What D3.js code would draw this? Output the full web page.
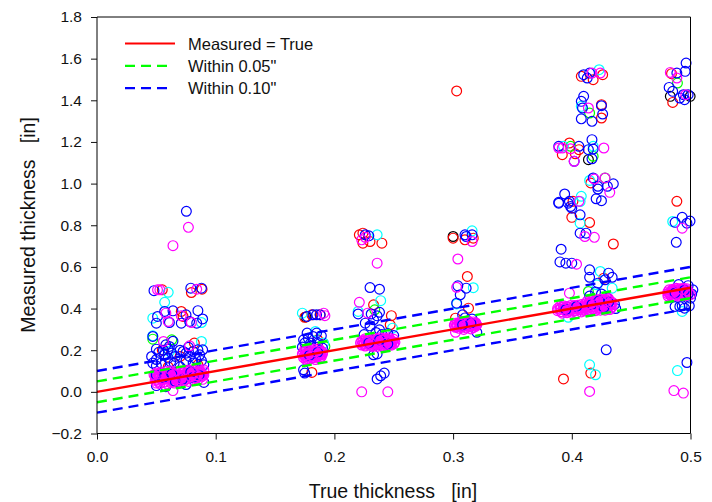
<!DOCTYPE html>
<html>
<head>
<meta charset="utf-8">
<script src="https://cdnjs.cloudflare.com/ajax/libs/d3/7.8.5/d3.min.js"></script>
<style>
    html, body {margin: 0; padding: 0; background: #fff;}
    text {font-family: "Liberation Sans", Arial, sans-serif; fill: #111;}
</style>
</head>
<body>
<div id="chart"></div>
<script>
// Values: [true thickness, measured thickness]
const xTicks = [0, 0.1, 0.2, 0.3, 0.4, 0.5];
const yTicks = [-0.2, 0, 0.2, 0.4, 0.6, 0.8, 1.0, 1.2, 1.4, 1.6, 1.8];
const lineEnds = [0, 0.5];
const legendLabels = ["Measured = True", "Within 0.05\"", "Within 0.10\""];

const blackPts = [[.300,.746],[.483,1.419],[.4997,1.419],[.414,1.115],[.176,.36]];

const redPts = [[.055,.49],[.0795,.477],[.0885,.493],[.071,.386],[.0725,.362],[.082,.234],[.07,.17],[.055,.2],[.085,.13],[.06,.12],
    [.175,.358],[.181,.37],[.188,.37],[.186,.25],[.181,.093],
    [.221,.754],[.224,.762],[.230,.722],[.240,.714],[.224,.714],[.233,.418],[.248,.366],[.247,.322],
    [.300,.738],[.310,.73],[.317,.738],[.312,.554],[.313,.402],[.302,.354],[.303,1.445],
    [.40,.838],[.415,.813],[.435,.71],[.427,.546],[.416,.09],[.393,.062],
    [.408,1.515],[.418,1.499],[.426,1.523],[.425,1.379],[.425,1.315],[.398,1.195],[.392,1.139],[.406,1.163],[.403,1.143],
    [.416,1.003],[.401,.915],[.4885,.915],[.484,1.528],[.485,1.39]];

const greenPts = [[.047,.253],[.063,.25],[.192,.218],[.234,.394],[.414,.482],[.399,1.179],[.415,1.339],[.418,1.131],[.428,1.027],[.489,1.483]];

const cyanPts = [[.06,.478],[.057,.43],[.047,.354],[.088,.333],[.047,.269],[.088,.242],[.061,.194],
    [.173,.378],[.184,.29],[.191,.234],[.236,.754],[.239,.438],[.22,.386],[.249,.306],[.316,.773],[.317,.5],[.303,.422],
    [.407,.81],[.424,.578],[.421,.514],[.434,.498],[.415,.13],[.42,.082],[.485,.818],[.493,.386],[.489,.102],[.397,.358],
    [.423,1.547],[.408,1.371],[.393,1.179],[.418,1.179],[.415,1.015],[.408,.939],[.407,.914]];

const bluePts = [[.048,.486],[.079,.498],[.088,.498],[.051,.362],[.05,.33],[.064,.389],[.085,.39],[.061,.333],[.071,.33],[.078,.338],
    [.084,.33],[.089,.35],[.057,.386],[.075,.37],[.064,.243],[.05,.205],[.046,.17],[.047,.266],[.058,.226],[.061,.218],[.063,.186],
    [.057,.178],[.06,.162],[.077,.214],[.0725,.194],[.081,.194],[.085,.202],[.089,.202],[.0865,.178],[.075,.186],[.054,.138],[.047,.138],
    [.065,.138],[.081,.138],[.056,.2],[.0753,.867],[.07,.12],[.05,.125],[.09,.13],[.05,.03],[.058,.025],[.09,.045],[.075,.035],
    [.052,.19],[.06,.205],[.066,.17],[.07,.2],[.078,.17],[.083,.16],[.088,.15],[.05,.155],[.062,.145],[.075,.15],
    [.177,.362],[.182,.37],[.185,.37],[.188,.37],[.174,.25],[.178,.258],[.185,.282],[.189,.269],[.177,.282],[.18,.234],[.175,.234],
    [.182,.266],[.174,.106],[.175,.09],[.19,.21],[.173,.215],[.18,.22],[.186,.235],[.176,.205],[.184,.215],
    [.226,.754],[.229,.749],[.23,.501],[.238,.493],[.22,.374],[.231,.374],[.238,.382],[.236,.365],[.233,.346],[.23,.317],[.238,.298],
    [.226,.33],[.233,.178],[.236,.182],[.236,.062],[.239,.077],[.242,.09],[.25,.27],[.245,.28],[.235,.285],[.24,.275],[.225,.275],
    [.31,.754],[.316,.754],[.311,.746],[.304,.509],[.311,.498],[.306,.466],[.303,.426],[.308,.37],[.32,.286],[.31,.355],[.316,.35],
    [.389,.906],[.397,.906],[.40,.882],[.407,.85],[.407,.762],[.412,.762],[.391,.685],[.39,.624],[.395,.618],[.40,.618],[.415,.586],
    [.415,.55],[.431,.57],[.434,.55],[.428,.538],[.422,.522],[.429,.202],[.415,.46],[.42,.48],[.425,.47],[.43,.45],[.436,.42],[.437,.40],
    [.488,.718],[.487,.814],[.493,.838],[.4996,.82],[.497,.81],[.497,.141],[.487,.41],[.491,.41],[.493,.413],[.499,.413],[.495,.402],
    [.501,.47],[.502,.49],[.498,.51],[.5,.45],[.49,.515],
    [.41,1.523],[.415,1.531],[.413,1.507],[.41,1.419],[.408,1.395],[.409,1.363],[.408,1.311],[.417,1.299],[.425,1.374],[.426,1.334],
    [.389,1.179],[.406,1.179],[.402,1.107],[.417,1.211],[.418,1.166],[.417,1.119],[.414,1.163],[.418,1.027],[.435,.999],[.422,.987],
    [.422,.974],[.43,.987],[.4205,.927],[.425,.918],[.394,.95],[.389,.91],[.398,.915],[.399,.89],[.4963,1.579],[.4955,1.539],[.4885,1.531],
    [.482,1.462],[.485,1.443],[.491,1.411],[.494,1.427],[.498,1.427],[.495,1.403]];

const magentaPts = [[.051,.49],[.053,.49],[.084,.493],[.058,.378],[.06,.338],[.071,.365],[.0795,.333],[.056,.242],[.078,.221],[.064,.702],[.077,.79],[.064,.006],
    [.191,.378],[.192,.366],[.223,.73],[.226,.742],[.236,.618],[.221,.43],[.228,.378],[.223,0],[.245,0],[.316,.722],[.304,.638],[.303,.502],[.302,.286],
    [.411,.746],[.419,.742],[.404,.613],[.398,.474],[.415,.002],[.493,.786],[.486,.006],[.494,-.006],
    [.417,1.531],[.424,1.531],[.414,1.363],[.389,1.171],[.392,1.171],[.399,1.167],[.402,1.107],[.427,1.171],[.419,1.022],[.428,1.027],[.432,.958],
    [.406,.915],[.483,1.534],[.4885,1.507],[.496,1.427]];

// the solid bands under the lines
const magentaBands = [
    [.049,.055],[.052,.05],[.055,.058],[.058,.048],[.061,.06],[.064,.052],[.067,.062],[.07,.06],[.073,.066],[.076,.062],[.079,.07],[.082,.068],[.085,.075],[.088,.072],
    [.05,.066],[.053,.07],[.056,.068],[.059,.073],[.062,.07],[.065,.075],[.068,.072],[.071,.078],[.074,.076],[.077,.08],[.08,.082],[.083,.08],[.086,.085],[.089,.082],
    [.049,.08],[.052,.084],[.055,.08],[.058,.086],[.061,.083],[.064,.088],[.068,.086],[.072,.09],[.075,.088],[.078,.092],[.081,.09],[.084,.095],[.087,.092],[.09,.097],
    [.05,.06],[.054,.062],[.057,.064],[.06,.066],[.063,.064],[.066,.068],[.07,.07],[.073,.072],[.077,.072],[.08,.076],[.084,.074],[.087,.078],[.09,.08],
    [.052,.075],[.056,.074],[.06,.078],[.064,.08],[.068,.08],[.072,.082],[.076,.084],[.08,.086],[.084,.087],[.088,.09],
    [.05,.042],[.053,.04],[.056,.045],[.059,.038],[.062,.044],[.065,.042],[.05,.09],[.054,.095],[.058,.098],[.062,.1],[.066,.098],[.07,.1],[.074,.102],[.078,.105],[.082,.104],[.086,.108],[.09,.106],
    [.069,.05],[.073,.052],[.077,.05],[.081,.055],[.085,.058],[.089,.06],[.051,.072],[.055,.088],[.06,.092],[.065,.06],[.071,.065],[.075,.07],[.079,.08],[.083,.088],[.087,.1],
    [.174,.165],[.177,.16],[.18,.17],[.183,.165],[.186,.172],[.189,.17],[.175,.178],[.178,.175],[.181,.182],[.184,.18],[.187,.185],[.19,.183],
    [.174,.19],[.177,.186],[.18,.192],[.183,.195],[.186,.193],[.189,.196],[.176,.197],[.179,.2],[.182,.176],[.185,.188],[.188,.178],[.175,.172],[.178,.182],
    [.176,.155],[.18,.158],[.184,.155],[.188,.16],[.175,.205],[.179,.208],[.183,.205],[.187,.208],[.19,.19],[.173,.182],[.176,.168],[.181,.164],[.185,.168],[.189,.178],[.179,.186],[.183,.188],
    [.223,.225],[.226,.22],[.229,.226],[.232,.222],[.235,.228],[.238,.224],[.241,.23],[.244,.226],[.247,.232],[.25,.23],
    [.222,.235],[.225,.232],[.228,.238],[.231,.234],[.234,.24],[.237,.236],[.24,.242],[.243,.238],[.246,.244],[.249,.24],
    [.223,.245],[.226,.248],[.229,.244],[.232,.25],[.235,.246],[.238,.252],[.241,.248],[.244,.254],[.247,.25],[.25,.252],
    [.226,.255],[.23,.258],[.234,.256],[.238,.26],[.242,.258],[.246,.26],[.225,.228],[.233,.23],[.24,.234],[.248,.236],[.236,.232],[.244,.246],
    [.227,.24],[.23,.228],[.224,.24],[.233,.243],[.236,.25],[.239,.23],[.242,.24],[.245,.232],[.248,.245],[.251,.238],[.228,.252],[.232,.218],[.236,.218],[.24,.22],[.244,.22],[.248,.224],[.231,.242],[.237,.244],[.243,.25],
    [.302,.31],[.305,.305],[.308,.312],[.311,.307],[.314,.313],[.317,.309],[.319,.315],
    [.301,.32],[.304,.318],[.307,.324],[.31,.32],[.313,.326],[.316,.322],[.319,.327],
    [.302,.33],[.305,.333],[.308,.329],[.311,.335],[.314,.331],[.317,.336],[.319,.332],[.306,.316],[.312,.317],[.318,.32],
    [.303,.312],[.309,.3],[.315,.302],[.303,.325],[.306,.328],[.309,.316],[.315,.318],[.318,.328],[.32,.322],[.307,.338],[.313,.34],
    [.388,.39],[.391,.385],[.394,.392],[.397,.387],[.4,.394],[.403,.389],[.406,.395],[.409,.392],[.412,.398],[.415,.394],[.418,.4],[.421,.397],[.424,.402],[.427,.399],[.43,.405],[.433,.402],
    [.388,.4],[.391,.404],[.394,.4],[.397,.406],[.4,.402],[.403,.408],[.406,.404],[.409,.41],[.412,.408],[.415,.412],[.418,.41],[.421,.415],[.424,.412],[.427,.418],[.43,.415],[.433,.42],
    [.39,.41],[.393,.413],[.396,.41],[.399,.415],[.402,.413],[.405,.416],[.408,.42],[.411,.422],[.414,.425],[.417,.428],[.42,.43],[.423,.432],[.426,.435],[.429,.437],[.432,.435],[.434,.43],
    [.413,.435],[.416,.44],[.42,.442],[.424,.445],[.428,.445],[.431,.442],[.414,.415],[.418,.42],[.422,.424],[.426,.426],[.43,.428],
    [.39,.396],[.393,.408],[.396,.397],[.399,.4],[.402,.398],[.405,.4],[.408,.401],[.411,.404],[.414,.403],[.417,.407],[.42,.408],[.423,.405],[.426,.408],[.429,.41],[.432,.412],[.434,.408],
    [.392,.378],[.396,.38],[.4,.382],[.404,.38],[.408,.384],[.412,.388],[.416,.386],[.42,.39],[.424,.392],[.428,.392],[.432,.395],[.415,.43],[.419,.436],[.423,.44],[.427,.44],[.431,.448],
    [.481,.46],[.484,.458],[.487,.463],[.49,.46],[.493,.465],[.496,.462],[.498,.467],
    [.481,.47],[.484,.473],[.487,.47],[.49,.475],[.493,.472],[.496,.477],[.498,.474],
    [.481,.48],[.484,.483],[.487,.48],[.49,.485],[.493,.482],[.496,.487],[.498,.484],
    [.482,.49],[.485,.493],[.488,.49],[.491,.495],[.494,.492],[.497,.495],
    [.483,.466],[.486,.476],[.489,.468],[.492,.478],[.495,.47],[.482,.476],[.485,.487],[.488,.497],[.491,.488],[.494,.498],[.497,.486]
];

// blue rings that show through the bands
const blueSpecks = [[.056,.07],[.063,.085],[.072,.06],[.079,.095],[.086,.08],[.05,.08],[.066,.05],[.081,.07],
    [.179,.175],[.186,.19],[.229,.235],[.238,.25],[.245,.23],[.308,.322],[.315,.33],
    [.395,.395],[.404,.41],[.417,.42],[.427,.405],[.431,.43],[.423,.437],[.487,.475],[.495,.488],[.498,.47]];

// last magenta hits, they partly cover those blue rings
const magentaTop = [[.058,.068],[.053,.074],[.065,.082],[.061,.09],[.07,.063],[.074,.057],[.081,.092],[.077,.098],[.088,.083],[.084,.077],[.048,.083],[.052,.086],[.068,.053],[.064,.047],[.083,.067],[.079,.073],
    [.181,.172],[.177,.178],[.188,.187],[.184,.193],[.231,.232],[.227,.238],[.24,.247],[.236,.253],[.247,.227],[.243,.233],[.31,.319],[.306,.325],[.317,.327],[.313,.333],
    [.397,.392],[.393,.398],[.406,.407],[.402,.413],[.419,.417],[.415,.423],[.429,.402],[.425,.408],[.433,.427],[.429,.433],[.425,.434],[.421,.44],
    [.489,.472],[.485,.478],[.497,.485],[.493,.491],[.5,.467],[.496,.473]];

const margin = {top: 17, right: 21.5, bottom: 68.5, left: 97};
const width = 712 - margin.left - margin.right;
const height = 502 - margin.top - margin.bottom;

const x = d3.scaleLinear().domain([0, 0.5]).range([0, width]);
const y = d3.scaleLinear().domain([-0.2, 1.8]).range([height, 0]);

const svg = d3.select("#chart").append("svg")
    .attr("width", 712)
    .attr("height", 502);

const g = svg.append("g")
    .attr("transform", "translate(" + margin.left + "," + margin.top + ")");

// scatter, back to front
const drawPoints = function (pts, color) {
    g.append("g").selectAll("circle")
        .data(pts)
        .enter().append("circle")
        .attr("cx", d => x(d[0]))
        .attr("cy", d => y(d[1]))
        .attr("r", 4.9)
        .attr("fill", "none")
        .attr("stroke", color)
        .attr("stroke-width", 1.2);
};
drawPoints(blackPts, "#000000");
drawPoints(redPts, "#ff0000");
drawPoints(greenPts, "#00ff00");
drawPoints(cyanPts, "#00ffff");
drawPoints(bluePts, "#0000ff");
drawPoints(magentaPts.concat(magentaBands), "#ff00ff");
drawPoints(blueSpecks, "#0000ff");
drawPoints(magentaTop, "#ff00ff");

// reference lines
const refLine = offset => d3.line()
    .x(d => x(d))
    .y(d => y(d + offset));
const refs = [
    {offset: 0.10, color: "#0000ff", dash: "10,6"},
    {offset: -0.10, color: "#0000ff", dash: "10,6"},
    {offset: 0.05, color: "#00ff00", dash: "10,6"},
    {offset: -0.05, color: "#00ff00", dash: "10,6"},
    {offset: 0, color: "#ff0000", dash: null}
];
refs.forEach(function (r) {
    g.append("path")
        .attr("d", refLine(r.offset)(lineEnds))
        .attr("fill", "none")
        .attr("stroke", r.color)
        .attr("stroke-width", 2.4)
        .attr("stroke-dasharray", r.dash);
});

// Creates the axes
const xAxis = g.append("g")
    .attr("transform", "translate(0," + height + ")")
    .call(d3.axisBottom(x).tickValues(xTicks).tickFormat(d3.format(".1f")).tickSize(6).tickPadding(11));
const yAxis = g.append("g")
    .call(d3.axisLeft(y).tickValues(yTicks).tickFormat(d3.format(".1f")).tickSize(6).tickPadding(9));
[xAxis, yAxis].forEach(function (a) {
    a.selectAll("text").style("font-size", "15.5px").attr("fill", "#111");
    a.selectAll("line").attr("stroke", "#111");
    a.select(".domain").attr("stroke", "#000");
});
xAxis.select(".domain").attr("d", "M0,0H" + width);
yAxis.select(".domain").attr("d", "M0,0V" + height);

// top and right border
g.append("path")
    .attr("d", "M0,0H" + width + "V" + height)
    .attr("fill", "none")
    .attr("stroke", "#000");

// axis titles
svg.append("text")
    .attr("x", 393)
    .attr("y", 498)
    .attr("text-anchor", "middle")
    .style("font-size", "19.5px")
    .style("white-space", "pre")
    .attr("xml:space", "preserve")
    .text("True thickness   [in]");
svg.append("text")
    .attr("transform", "translate(35,225) rotate(-90)")
    .attr("text-anchor", "middle")
    .style("font-size", "19.5px")
    .style("white-space", "pre")
    .attr("xml:space", "preserve")
    .text("Measured thickness   [in]");

// legend
const legendColors = ["#ff0000", "#00ff00", "#0000ff"];
legendLabels.forEach(function (label, i) {
    const ly = 43.5 + i * 22.3;
    svg.append("line")
        .attr("x1", 125).attr("x2", i === 0 ? 175 : 171)
        .attr("y1", ly).attr("y2", ly)
        .attr("stroke", legendColors[i])
        .attr("stroke-width", 2.2)
        .attr("stroke-dasharray", i === 0 ? null : "10,6");
    svg.append("text")
        .attr("x", 188)
        .attr("y", ly + 6)
        .style("font-size", "16.5px")
        .text(label);
});
</script>
</body>
</html>
